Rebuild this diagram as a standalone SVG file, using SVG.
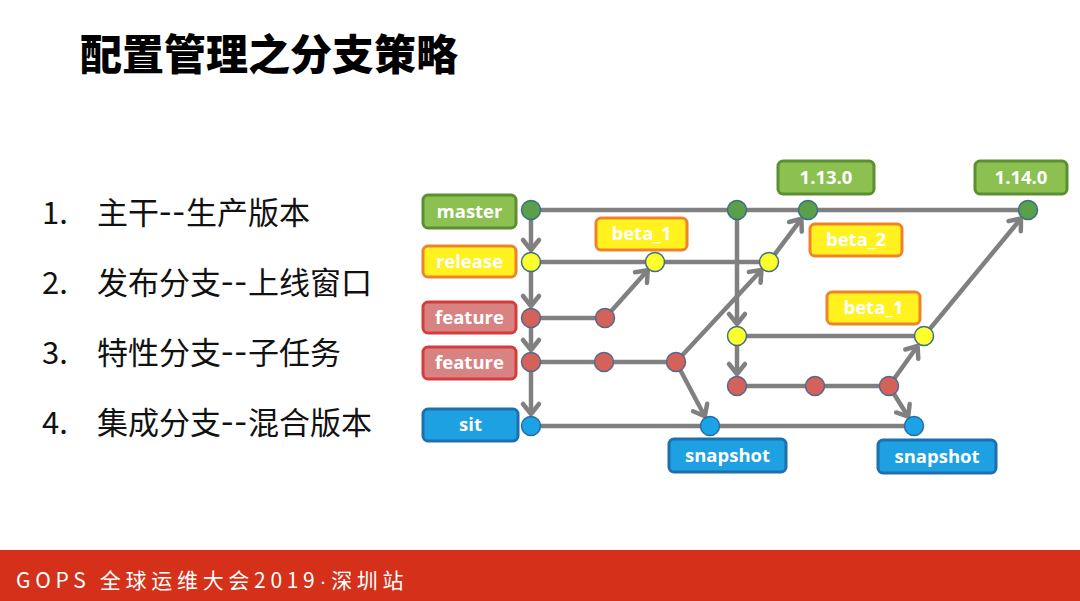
<svg xmlns="http://www.w3.org/2000/svg" width="1080" height="601" viewBox="0 0 1080 601">
<defs>
<style>
.title{font-family:"Noto Sans CJK SC","Noto Sans",sans-serif;font-weight:900;font-size:42px;fill:#000}
.item{font-family:"Noto Sans CJK SC","Noto Sans",sans-serif;font-size:31px;fill:#111}
.hy{font-size:36px;letter-spacing:1px}
.lbl{font-family:"Open Sans","Noto Sans",sans-serif;font-weight:700;font-size:18.5px;fill:#fff;text-anchor:middle}
.foot{font-family:"Noto Sans CJK SC","Noto Sans",sans-serif;font-size:21px;fill:#fff;letter-spacing:4.7px}
.dot{font-family:"Liberation Sans",sans-serif}
.g{fill:#8cc152;stroke:#5b8f32;stroke-width:3}
.y{fill:#fff21e;stroke:#f0822a;stroke-width:3}
.r{fill:#d98282;stroke:#d63c3c;stroke-width:3}
.b{fill:#1da1e2;stroke:#1e6fae;stroke-width:3}
.cg{fill:#5aa048;stroke:#3d6d86;stroke-width:1.5}
.cy{fill:#ffff2e;stroke:#3d7080;stroke-width:1.5}
.cr{fill:#d4625a;stroke:#55688a;stroke-width:1.5}
.cb{fill:#1aa3e6;stroke:#2a6c9c;stroke-width:1.5}
.ln{stroke:#808080;stroke-width:4.5;fill:none}
.ar{stroke:#808080;stroke-width:4.5;fill:none;marker-end:url(#arr)}
</style>
<marker id="arr" markerUnits="userSpaceOnUse" viewBox="-14 -10 18 20" refX="0" refY="0" markerWidth="18" markerHeight="20" orient="auto" overflow="visible">
<path d="M-10,-8 L0,0 L-10,8" fill="none" stroke="#808080" stroke-width="4.5" stroke-linecap="round" stroke-linejoin="round"/>
</marker>
</defs>
<rect width="1080" height="601" fill="#fff"/>
<text class="title" x="80" y="70">配置管理之分支策略</text>
<g id="list">
<text class="item" x="42" y="224">1.</text><text class="item" x="97" y="224">主干<tspan class="hy">--</tspan>生产版本</text>
<text class="item" x="42" y="294">2.</text><text class="item" x="97" y="294">发布分支<tspan class="hy">--</tspan>上线窗口</text>
<text class="item" x="42" y="364">3.</text><text class="item" x="97" y="364">特性分支<tspan class="hy">--</tspan>子任务</text>
<text class="item" x="42" y="434">4.</text><text class="item" x="97" y="434">集成分支<tspan class="hy">--</tspan>混合版本</text>
</g>
<g id="connectors">
<line class="ln" x1="531" y1="210" x2="1028" y2="210"/>
<line class="ln" x1="531" y1="262" x2="769" y2="262"/>
<line class="ln" x1="531" y1="318" x2="605" y2="318"/>
<line class="ln" x1="531" y1="362" x2="676" y2="362"/>
<line class="ln" x1="737" y1="336" x2="924" y2="336"/>
<line class="ln" x1="737" y1="386" x2="889" y2="386"/>
<line class="ln" x1="531" y1="426" x2="914" y2="426"/>
<line class="ar" x1="531" y1="219" x2="531" y2="250"/>
<line class="ar" x1="531" y1="271" x2="531" y2="306"/>
<line class="ar" x1="531" y1="327" x2="531" y2="350"/>
<line class="ar" x1="531" y1="371" x2="531" y2="414"/>
<line class="ar" x1="605" y1="318" x2="647.7" y2="270.2"/>
<line class="ar" x1="676" y1="362" x2="761.5" y2="270"/>
<line class="ar" x1="769" y1="262" x2="801.4" y2="218.8"/>
<line class="ar" x1="676" y1="362" x2="704.8" y2="416.3"/>
<line class="ar" x1="737" y1="219" x2="737" y2="324"/>
<line class="ar" x1="737" y1="345" x2="737" y2="374"/>
<line class="ar" x1="889" y1="386" x2="917.6" y2="346"/>
<line class="ar" x1="889" y1="386" x2="908.2" y2="416.7"/>
<line class="ar" x1="924" y1="336" x2="1021" y2="218.5"/>
</g>
<g id="commits">
<circle class="cg" cx="531" cy="210" r="9.5"/>
<circle class="cg" cx="737" cy="210" r="9.5"/>
<circle class="cg" cx="808" cy="210" r="9.5"/>
<circle class="cg" cx="1028" cy="210" r="9.5"/>
<circle class="cy" cx="531" cy="262" r="9.5"/>
<circle class="cy" cx="655" cy="262" r="9.5"/>
<circle class="cy" cx="769" cy="262" r="9.5"/>
<circle class="cy" cx="737" cy="336" r="9.5"/>
<circle class="cy" cx="924" cy="336" r="9.5"/>
<circle class="cr" cx="531" cy="318" r="9.5"/>
<circle class="cr" cx="605" cy="318" r="9.5"/>
<circle class="cr" cx="531" cy="362" r="9.5"/>
<circle class="cr" cx="604" cy="362" r="9.5"/>
<circle class="cr" cx="676" cy="362" r="9.5"/>
<circle class="cr" cx="737" cy="386" r="9.5"/>
<circle class="cr" cx="815" cy="386" r="9.5"/>
<circle class="cr" cx="889" cy="386" r="9.5"/>
<circle class="cb" cx="531" cy="426" r="9.5"/>
<circle class="cb" cx="710" cy="426" r="9.5"/>
<circle class="cb" cx="914" cy="426" r="9.5"/>
</g>
<g id="n-master"><rect class="g" x="423" y="195" width="93" height="33" rx="5"/><text class="lbl" x="469.5" y="218">master</text></g>
<g id="n-release"><rect class="y" x="423" y="246" width="93" height="31" rx="5"/><text class="lbl" x="469.5" y="268">release</text></g>
<g id="n-feature1"><rect class="r" x="423" y="302" width="93" height="31" rx="5"/><text class="lbl" x="469.5" y="324">feature</text></g>
<g id="n-feature2"><rect class="r" x="423" y="347" width="93" height="32" rx="5"/><text class="lbl" x="469.5" y="369">feature</text></g>
<g id="n-sit"><rect class="b" x="423" y="409" width="95" height="32" rx="5"/><text class="lbl" x="470.5" y="431">sit</text></g>
<g id="n-1130"><rect class="g" x="778" y="161" width="96" height="33" rx="5"/><text class="lbl" x="826" y="184">1.13.0</text></g>
<g id="n-1140"><rect class="g" x="975" y="161" width="92" height="33" rx="5"/><text class="lbl" x="1021" y="184">1.14.0</text></g>
<g id="n-beta1a"><rect class="y" x="596" y="218" width="91" height="32" rx="5"/><text class="lbl" x="641.5" y="240">beta_1</text></g>
<g id="n-beta2"><rect class="y" x="810" y="224" width="92" height="32" rx="5"/><text class="lbl" x="856" y="246">beta_2</text></g>
<g id="n-beta1b"><rect class="y" x="827" y="292" width="93" height="32" rx="5"/><text class="lbl" x="873.5" y="314">beta_1</text></g>
<g id="n-snap1"><rect class="b" x="669" y="439" width="117" height="33" rx="5"/><text class="lbl" x="727.5" y="462">snapshot</text></g>
<g id="n-snap2"><rect class="b" x="878" y="440" width="118" height="33" rx="5"/><text class="lbl" x="937" y="463">snapshot</text></g>
<g id="footer">
<rect x="0" y="550" width="1080" height="51" fill="#d4301a"/>
<text class="foot" x="16" y="588">GOPS 全球运维大会2019<tspan class="dot">·</tspan>深圳站</text>
</g>
</svg>
